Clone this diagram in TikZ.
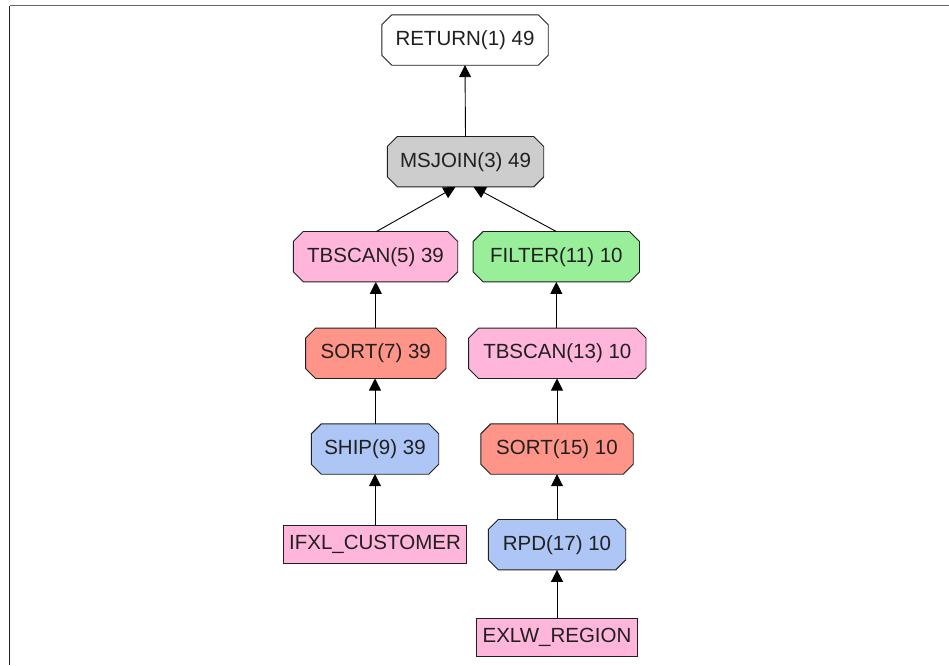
\documentclass[tikz,border=0pt]{standalone}
\usepackage{fontspec}
\setmainfont{Liberation Sans}
\usetikzlibrary{arrows.meta,backgrounds}
\definecolor{cgray}{HTML}{CDCDCD}
\definecolor{cpink}{HTML}{FFB6DA}
\definecolor{cgreen}{HTML}{99EE99}
\definecolor{csalmon}{HTML}{FF9488}
\definecolor{cblue}{HTML}{ADC6F5}
\definecolor{cline}{HTML}{202020}
\tikzset{
  op/.style={rectangle, minimum height=50pt, inner sep=0pt,
    font=\fontsize{20.5}{24}\selectfont, text=cline},
  tbl/.style={rectangle, draw=cline, line width=0.9pt, minimum height=38pt, inner sep=0pt,
    font=\fontsize{20.5}{24}\selectfont, text=cline, fill=cpink},
  flow/.style={draw=black, line width=0.9pt, -{Triangle[width=12pt,length=12pt]}},
  octo/.style={draw=cline, line width=0.9pt},
}
\newcommand\octonode[2]{%
  \begin{pgfonlayer}{background}
  \filldraw[octo, fill=#2] ([xshift=10pt]#1.north west) -- ([xshift=-10pt]#1.north east)
    -- ([yshift=-10pt]#1.north east) -- ([yshift=10pt]#1.south east)
    -- ([xshift=-10pt]#1.south east) -- ([xshift=10pt]#1.south west)
    -- ([yshift=10pt]#1.south west) -- ([yshift=-10pt]#1.north west) -- cycle;
  \end{pgfonlayer}}
\begin{document}
\begin{tikzpicture}[x=1pt,y=-1pt]
\useasboundingbox (0,0) rectangle (949,665);
\begin{pgfonlayer}{background}
\fill[white] (0,0) rectangle (949,665);
\end{pgfonlayer}
\draw[line width=1.6pt, color=gray!80!black] (9.5,5.5) -- (949,5.5);
\draw[line width=1.6pt, color=cline] (9.5,5.5) -- (9.5,665);

\node[op, minimum width=166pt] (ret) at (465,40) {RETURN(1) 49};
\node[op, minimum width=156pt] (msj) at (465.5,161.7) {MSJOIN(3) 49};
\node[op, minimum width=164pt] (tb5) at (375.5,256.7) {TBSCAN(5) 39};
\node[op, minimum width=166pt] (fil) at (556.3,256.7) {FILTER(11) 10};
\node[op, minimum width=140pt] (so7) at (375.8,353.3) {SORT(7) 39};
\node[op, minimum width=177pt] (tb13) at (557.3,353.3) {TBSCAN(13) 10};
\node[op, minimum width=127pt] (sh9) at (375,449) {SHIP(9) 39};
\node[op, minimum width=152pt] (so15) at (557,449) {SORT(15) 10};
\node[tbl, minimum width=183pt] (ifxl) at (375,544.8) {IFXL\_CUSTOMER};
\node[op, minimum width=137pt] (rpd) at (557,544.7) {RPD(17) 10};
\node[tbl, minimum width=161pt] (exlw) at (557,637.5) {EXLW\_REGION};

\octonode{ret}{white}
\octonode{msj}{cgray}
\octonode{tb5}{cpink}
\octonode{fil}{cgreen}
\octonode{so7}{csalmon}
\octonode{tb13}{cpink}
\octonode{sh9}{cblue}
\octonode{so15}{csalmon}
\octonode{rpd}{cblue}

\draw[flow] (msj.north) -- (ret.south);
\draw[flow] ([xshift=1pt]tb5.north) -- ([xshift=-10pt]msj.south);
\draw[flow] (fil.north) -- ([xshift=8pt]msj.south);
\draw[flow] (so7.north) -- (so7.north |- tb5.south);
\draw[flow] (sh9.north) -- (sh9.north |- so7.south);
\draw[flow] (ifxl.north) -- (ifxl.north |- sh9.south);
\draw[flow] (tb13.north -| fil.south) -- (fil.south);
\draw[flow] (so15.north) -- (so15.north |- tb13.south);
\draw[flow] (rpd.north) -- (rpd.north |- so15.south);
\draw[flow] (exlw.north) -- (exlw.north |- rpd.south);
\end{tikzpicture}
\end{document}
